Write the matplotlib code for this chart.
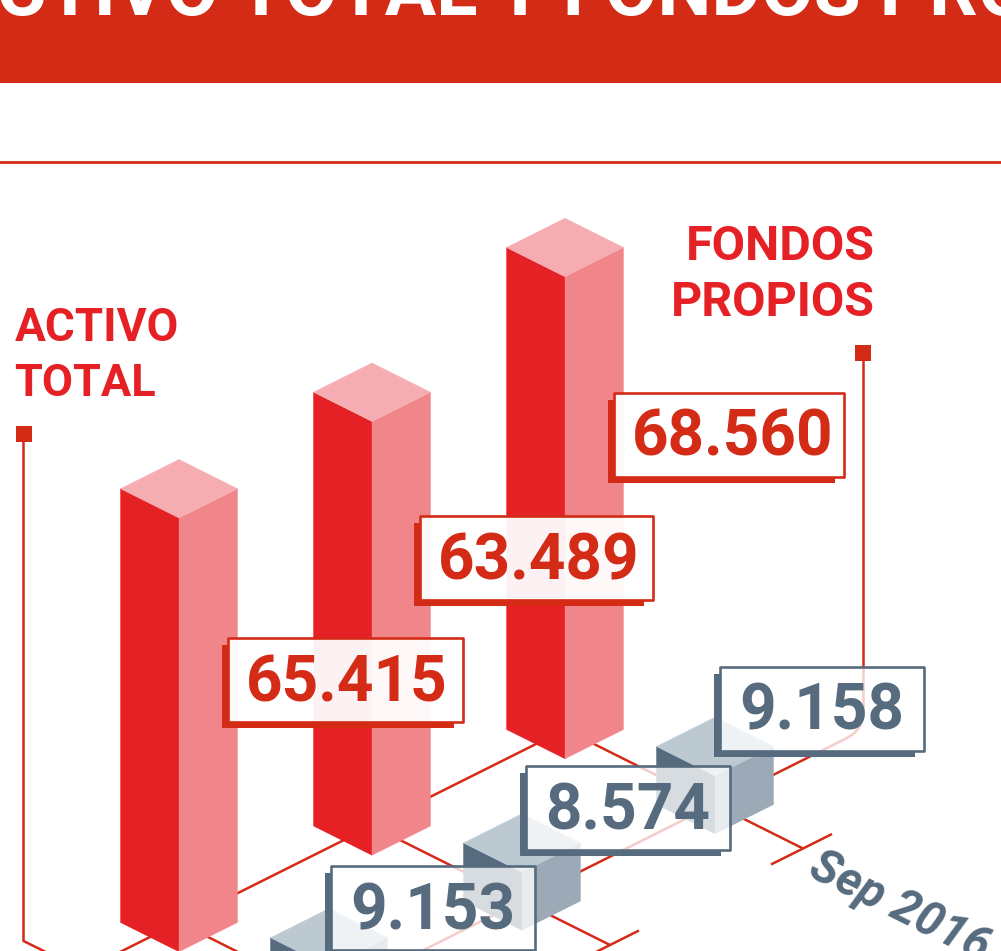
import matplotlib
matplotlib.use('Agg')
import matplotlib.pyplot as plt
from matplotlib.colors import to_rgba
from matplotlib.patches import Polygon, Rectangle, PathPatch
from matplotlib.path import Path

plt.rcParams['font.family'] = ['Roboto', 'DejaVu Sans']

# Datos
activo_total = [65415, 63489, 68560]
fondos_propios = [9153, 8574, 9158]
# altura dibujada de cada columna en la grafica (no siguen las etiquetas)
activo_dibujado = [61.7, 61.7, 68.56]
fondos_dibujado = [8.5, 8.25, 8.25]
ultima_fecha = 'Sep 2016'

ROJO = '#D42B17'
ROJO_BARRA = ['#E52125', '#F1868A', '#F5ADB2']
AZUL = '#566B7D'
AZUL_BLOQUE = ['#566B7D', '#9BAAB6', '#BDC9D1']

ESCALA = 482 / 68.56  # pixeles por cada mil
PASO_X, PASO_Y = 193, -96.5
ANCHO, FONDO = 58.5, 29.25
GROSOR = 1.8


def etiqueta(v):
    return f'{v:,}'.replace(',', '.')


def base_barra(i):
    return 179 + PASO_X * i, 922.5 + PASO_Y * i


def base_bloque(i):
    x, y = base_barra(i)
    return x + 150, y + 75


def prisma(x, y, alto, colores, z):
    # x, y = centro de la base
    sup = y - alto
    izq = [(x - ANCHO, y), (x, y + FONDO), (x, sup + FONDO), (x - ANCHO, sup)]
    der = [(x + ANCHO, y), (x, y + FONDO), (x, sup + FONDO), (x + ANCHO, sup)]
    tapa = [(x - ANCHO, sup), (x, sup - FONDO), (x + ANCHO, sup), (x, sup + FONDO)]
    for pts, c in zip([izq, der, tapa], colores):
        ax.add_patch(Polygon(pts, closed=True, fc=c, ec=c, lw=0.3, zorder=z))


def caja(x0, y0, ancho, alto, texto, xtexto, color, alfa, z):
    x1, y1 = x0 + ancho, y0 + alto
    # sombra en L
    sombra = [(x0 - 6, y0 + 7), (x0, y0 + 7), (x0, y1), (x1 - 9, y1),
              (x1 - 9, y1 + 6), (x0 - 6, y1 + 6)]
    ax.add_patch(Polygon(sombra, closed=True, fc=color, ec='none', zorder=z))
    ax.add_patch(Rectangle((x0, y0), ancho, alto, fc=to_rgba('white', alfa), ec=color,
                           lw=1.9, joinstyle='round', zorder=z + 0.1))
    ax.text(xtexto, y0 + 63, texto, color=color, fontsize=46, fontweight='bold',
            ha='center', va='baseline', zorder=z + 0.2)


fig = plt.figure(figsize=(10.01, 9.51), dpi=100)
ax = fig.add_axes([0, 0, 1, 1])
ax.set_xlim(0, 1001)
ax.set_ylim(951, 0)
ax.axis('off')

# Cabecera
ax.add_patch(Rectangle((0, 0), 1001, 83, fc=ROJO, ec='none', zorder=1))
ax.text(-55, 14.5, 'ACTIVO TOTAL Y FONDOS PROPIOS', color='white', fontsize=55,
        fontweight='bold', ha='left', va='baseline', zorder=2)
ax.plot([0, 1001], [161.5, 161.5], color=ROJO, lw=2, zorder=1)

# Rejilla isometrica
kw = dict(color=ROJO, lw=GROSOR, solid_capstyle='butt', zorder=1)
x0, y0 = base_barra(-1)
x1, y1 = base_barra(2)
ax.plot([x0, x1], [y0, y1], **kw)
for i in range(3):
    x, y = base_barra(i)
    xt, yt = x + 238, y + 119
    ax.plot([x, xt], [y, yt], **kw)
    ax.plot([xt - 32, xt + 29], [yt + 16, yt - 14.5], **kw)

# Lineas guia de las leyendas
x0, y0 = base_bloque(-1)
guia = Path([(x0, y0), (845, 739), (863.5, 730), (863.5, 712), (863.5, 352)],
            [Path.MOVETO, Path.LINETO, Path.CURVE3, Path.CURVE3, Path.LINETO])
ax.add_patch(PathPatch(guia, fc='none', ec=ROJO, lw=GROSOR, zorder=1))
ax.plot([23.5, 23.5, 70], [433, 941, 964], color=ROJO, lw=GROSOR, zorder=1)
ax.add_patch(Rectangle((855, 344.5), 16, 16, fc=ROJO, ec='none', zorder=1))
ax.add_patch(Rectangle((16, 426), 16, 16, fc=ROJO, ec='none', zorder=1))

# Columnas, de atras hacia delante
for i in [2, 1, 0]:
    x, y = base_barra(i)
    prisma(x, y, activo_dibujado[i] * ESCALA, ROJO_BARRA, 3 + (2 - i))
    x, y = base_bloque(i)
    prisma(x, y, fondos_dibujado[i] * ESCALA, AZUL_BLOQUE, 3 + (2 - i))

# Etiquetas
pos_rojas = [(228, 638), (420, 516), (614, 393)]
pos_azules = [(331, 866), (526, 766), (720, 667)]
anchos_rojos = [234.5, 232.5, 229.5]
for i in range(3):
    x, y = pos_rojas[i]
    caja(x, y, anchos_rojos[i], 83.5, etiqueta(activo_total[i]), x + 118.5, ROJO, 0.95, 10 + (2 - i))
    x, y = pos_azules[i]
    caja(x, y, 203.5, 83.5, etiqueta(fondos_propios[i]), x + 102, AZUL, 0.77, 20 + (2 - i))

# Titulos de las series
rojo_txt = '#E52125'
ax.text(15, 341, 'ACTIVO', color=rojo_txt, fontsize=33, fontweight='bold', va='baseline')
ax.text(14, 396, 'TOTAL', color=rojo_txt, fontsize=32.5, fontweight='bold', va='baseline')
ax.text(875, 260, 'FONDOS', color=rojo_txt, fontsize=34.8, fontweight='bold', ha='right', va='baseline')
ax.text(875, 316, 'PROPIOS', color=rojo_txt, fontsize=34.8, fontweight='bold', ha='right', va='baseline')

# Fecha
ax.text(806, 875, ultima_fecha, color=AZUL, fontsize=34, fontweight='bold', style='italic',
        rotation=-26.57, rotation_mode='anchor', ha='left', va='baseline')

fig.savefig('out.png', dpi=100)
